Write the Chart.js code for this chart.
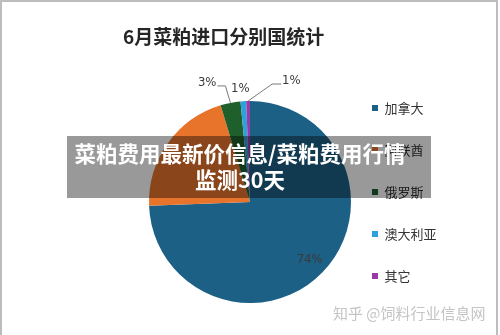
<!DOCTYPE html>
<html>
<head>
<meta charset="utf-8">
<script src="https://cdn.jsdelivr.net/npm/chart.js@4.4.1/dist/chart.umd.min.js"></script>
<style>
  body { margin: 0; background: #fff; }
  #wrap { position: relative; width: 500px; height: 335px; overflow: hidden; font-family: "Noto Sans CJK SC", sans-serif; }
  #frame { position: absolute; left: 0; top: 0; width: 494px; height: 340px; border: 2px solid #bdbdbd; border-bottom: none; }
  canvas { position: absolute; left: 0; top: 0; }
  #title { position: absolute; left: 123px; top: 26px; font-size: 19px; line-height: 20px; font-weight: bold; color: #262626; white-space: nowrap; }
  #band { position: absolute; left: 67px; top: 136px; width: 364px; height: 62px; background: rgba(0, 0, 0, 0.4); }
  #bandText { position: absolute; left: 40px; top: 140px; width: 400px; text-align: center; color: #fff; font-weight: bold; font-size: 21.5px; line-height: 26px; white-space: nowrap; }
  #mark { position: absolute; left: 333px; top: 304px; font-size: 15px; line-height: 18px; color: #c4c4c4; white-space: nowrap; }
</style>
</head>
<body>
<div id="wrap">
  <canvas id="pie" width="500" height="335"></canvas>
  <div id="frame"></div>
  <div id="title">6月菜粕进口分别国统计</div>
  <div id="mark">知乎 @饲料行业信息网</div>
  <div id="band"></div>
  <div id="bandText">菜粕费用最新价信息/菜粕费用行情<br>监测30天</div>
</div>
<script>
// June rapeseed meal imports by origin (share, %)
const countries = ['加拿大', '阿联酋', '俄罗斯', '澳大利亚', '其它'];
const shares = [74.4, 20.9, 3.2, 0.9, 0.6];
const sliceColors = ['#1d6086', '#e8742c', '#1e5f2b', '#2ca2db', '#9a3aa7'];

// where each percentage label goes, relative to its slice (null = no label)
const labelSpots = [
  { inside: 0.82 },
  null,
  { elbow: [-5, -17], tail: -8 },
  { offset: [-3, -13] },
  { elbow: [24, -17], tail: 9 }
];

const pctLabels = {
  id: 'pctLabels',
  afterDatasetsDraw(chart) {
    const ctx = chart.ctx;
    const meta = chart.getDatasetMeta(0);
    const vals = chart.data.datasets[0].data;
    const total = vals.reduce((a, b) => a + b, 0);
    ctx.save();
    ctx.font = "13px 'Liberation Sans Narrow', 'DejaVu Sans Condensed', 'Liberation Sans', sans-serif";
    ctx.fillStyle = '#3a3a3a';
    ctx.strokeStyle = '#7a7a7a';
    ctx.lineWidth = 1;
    ctx.textBaseline = 'middle';
    meta.data.forEach((arc, i) => {
      const spot = labelSpots[i];
      if (!spot) return;
      const p = arc.getProps(['x', 'y', 'startAngle', 'endAngle', 'outerRadius'], true);
      const mid = (p.startAngle + p.endAngle) / 2;
      const txt = Math.round(vals[i] / total * 100) + '%';
      const dx = Math.cos(mid), dy = Math.sin(mid);
      if (spot.inside) {
        ctx.textAlign = 'center';
        ctx.fillText(txt, p.x + dx * p.outerRadius * spot.inside, p.y + dy * p.outerRadius * spot.inside);
        return;
      }
      const ax = p.x + dx * p.outerRadius, ay = p.y + dy * p.outerRadius;
      if (spot.offset) {
        ctx.textAlign = 'center';
        ctx.fillText(txt, ax + spot.offset[0], ay + spot.offset[1]);
        return;
      }
      const ex = ax + spot.elbow[0], ey = ay + spot.elbow[1];
      const tx = ex + spot.tail;
      ctx.beginPath();
      ctx.moveTo(ax, ay);
      ctx.lineTo(ex, ey);
      ctx.lineTo(tx, ey);
      ctx.stroke();
      ctx.textAlign = spot.tail < 0 ? 'right' : 'left';
      ctx.fillText(txt, tx + (spot.tail < 0 ? -1 : 1), ey - 3);
    });
    ctx.restore();
  }
};

new Chart(document.getElementById('pie'), {
  type: 'pie',
  data: {
    labels: countries,
    datasets: [{
      data: shares,
      backgroundColor: sliceColors,
      borderWidth: 0,
      radius: 101
    }]
  },
  options: {
    responsive: false,
    animation: false,
    layout: { padding: { left: 157, right: 53.5, top: 72.5, bottom: 3.5 } },
    plugins: {
      tooltip: { enabled: false },
      legend: {
        position: 'right',
        align: 'start',
        fullSize: false,
        labels: {
          boxWidth: 6,
          boxHeight: 6,
          padding: 29,
          color: '#333333',
          font: { family: "'Noto Sans CJK SC', sans-serif", size: 13 }
        }
      }
    }
  },
  plugins: [pctLabels]
});
</script>
</body>
</html>
